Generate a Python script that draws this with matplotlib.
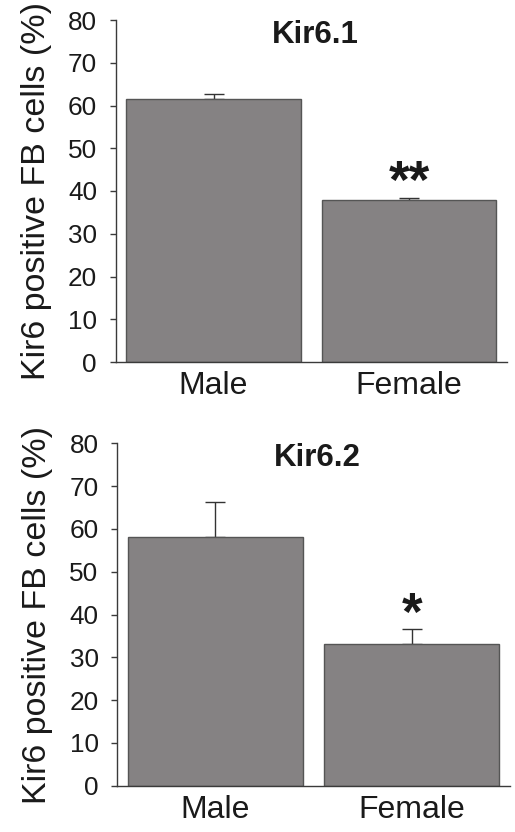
import matplotlib
matplotlib.use("Agg")
import matplotlib.pyplot as plt

categories = ["Male", "Female"]
titles = ["Kir6.1", "Kir6.2"]
means = [[61.5, 38.0], [58.0, 33.0]]
errors = [[1.3, 0.4], [8.4, 3.5]]
stars = [["", "**"], ["", "*"]]
ylabel = "Kir6 positive FB cells (%)"
yticks = [0, 10, 20, 30, 40, 50, 60, 70, 80]

plt.rcParams['font.family'] = ['Liberation Sans', 'DejaVu Sans']

fig = plt.figure(figsize=(5.15, 8.32), dpi=100)
axes_rects = [
    [115.7 / 515, 1 - 362 / 832, (507 - 115.7) / 515, (362 - 20) / 832],
    [117.3 / 515, 1 - 785.7 / 832, (510 - 117.3) / 515, (785.7 - 443.3) / 832],
]
bar_color = "#858283"
edge_color = "#555555"
axis_color = "#3a3a3a"

for i, rect in enumerate(axes_rects):
    ax = fig.add_axes(rect)
    x = list(range(len(categories)))
    ax.bar(x, means[i], width=0.89, color=bar_color, edgecolor=edge_color,
           linewidth=1.0, zorder=2)
    ax.errorbar(x, means[i], yerr=[[0] * len(x), errors[i]], fmt="none",
                ecolor="#333333", elinewidth=1.0, capsize=7, capthick=1.0,
                zorder=1)
    for xi, (m, e, s) in enumerate(zip(means[i], errors[i], stars[i])):
        if s:
            ax.text(xi, m + e - 0.1, s, ha="center", va="baseline",
                    fontsize=38, fontweight="bold", color="#1a1a1a")
    ax.text(0.52, 74.6, titles[i], ha="center", va="baseline",
            fontsize=22.5, fontweight="bold", color="#1a1a1a")
    ax.set_xlim(-0.5, 1.5)
    ax.set_ylim(0, 80)
    ax.set_yticks(yticks)
    ax.set_xticks(x)
    ax.set_xticklabels(categories, fontsize=23, color="#1a1a1a")
    ax.tick_params(axis="x", length=0, pad=6.5)
    ax.tick_params(axis="y", length=4, width=1, color=axis_color,
                   labelsize=18.8, labelcolor="#1a1a1a", pad=9.5, direction="out")
    for side in ["top", "right"]:
        ax.spines[side].set_visible(False)
    for side in ["left", "bottom"]:
        ax.spines[side].set_color(axis_color)
        ax.spines[side].set_linewidth(1.0)
    ax.set_ylabel(ylabel, fontsize=24.5, color="#1a1a1a")
    ax.yaxis.set_label_coords(-0.163, 0.5)

fig.savefig("out.png", dpi=100, facecolor="white")
